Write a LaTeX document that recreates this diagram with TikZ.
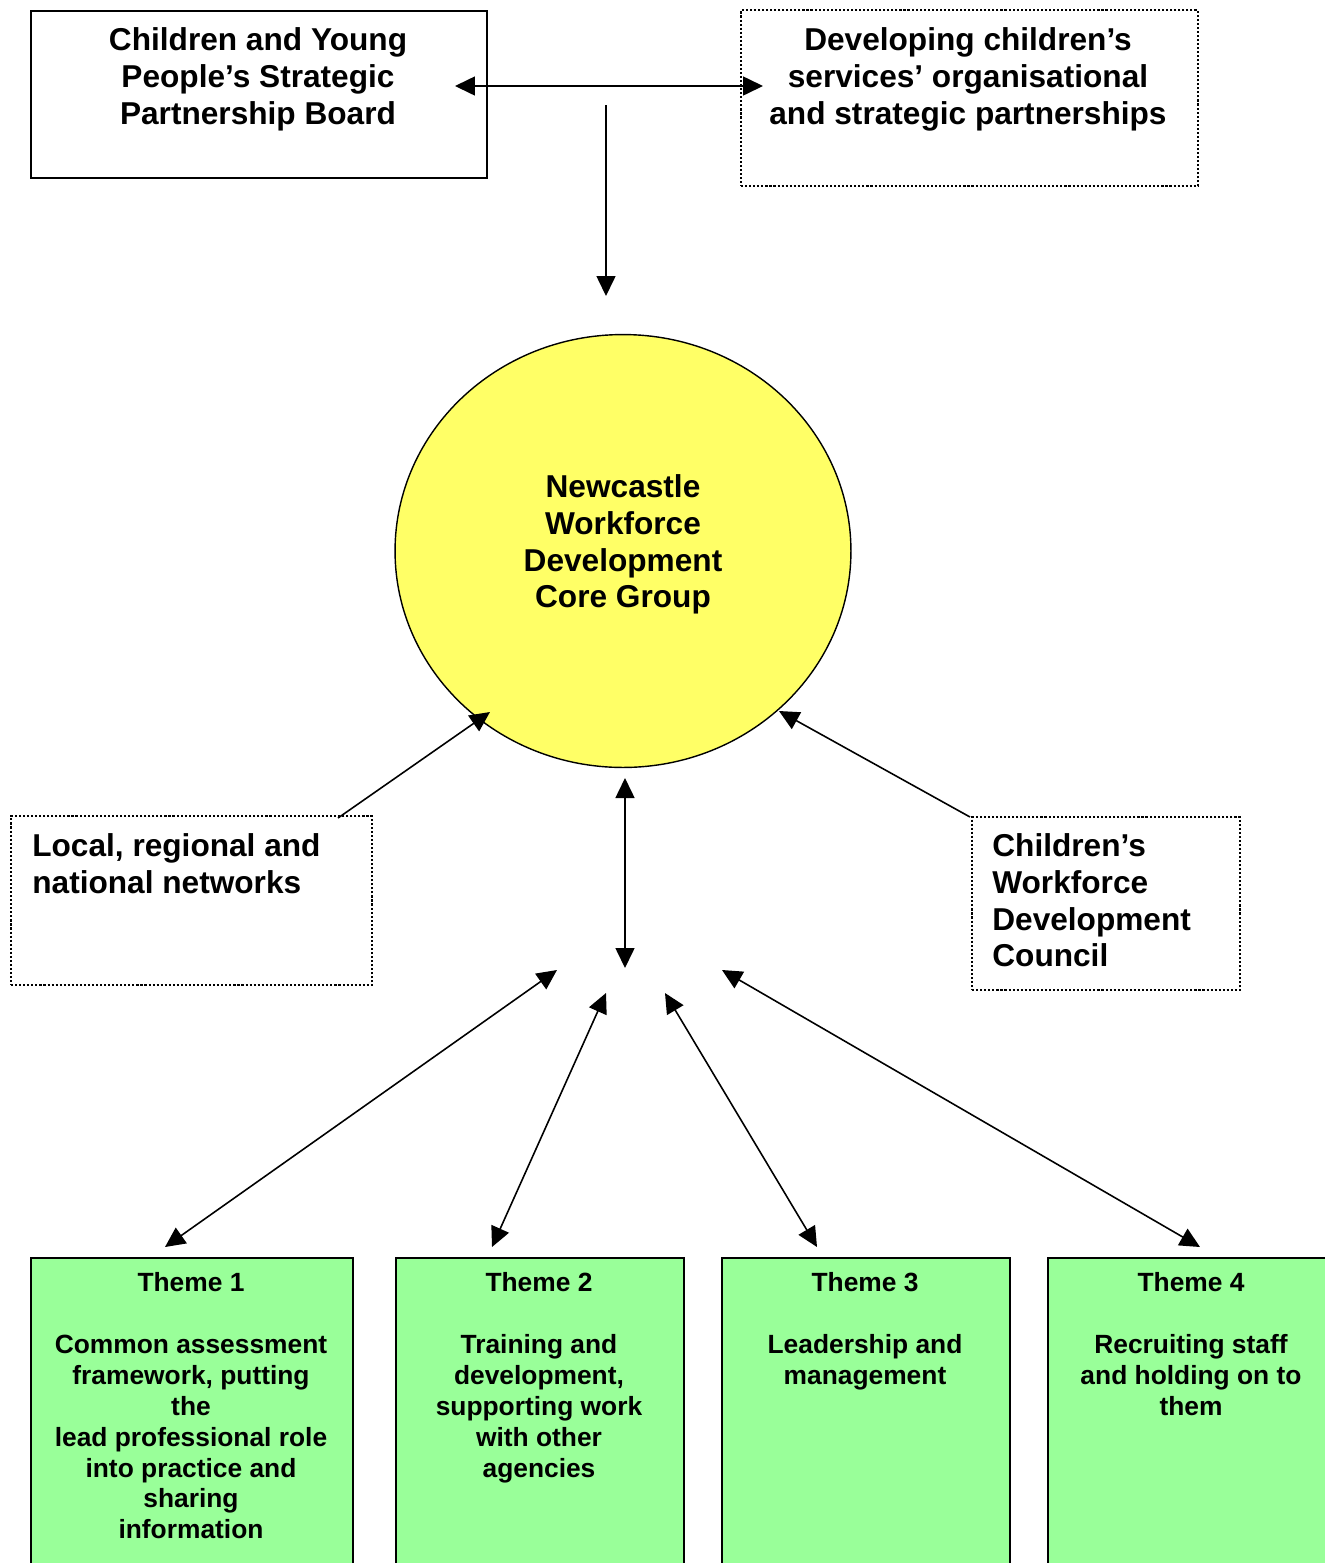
\documentclass[tikz,border=0pt]{standalone}
\usepackage{fontspec}
\setmainfont{Liberation Sans}
\usetikzlibrary{arrows.meta,shapes.geometric}
\definecolor{coreyellow}{HTML}{FFFF66}
\definecolor{themegreen}{HTML}{99FF99}
\tikzset{
 bigtext/.style={font=\fontsize{18}{21}\selectfont\bfseries, inner sep=0pt},
 smalltext/.style={font=\fontsize{15}{17.6}\selectfont\bfseries, inner sep=0pt, align=center, anchor=north},
 solidbox/.style={draw, line width=1pt, rectangle, inner sep=0pt, anchor=north west},
 dotbox/.style={draw, line width=1.3pt, dash pattern=on 1.2pt off 1.1pt, rectangle, inner sep=0pt, anchor=north west},
 themebox/.style={draw, fill=themegreen, line width=0.9pt, rectangle, inner sep=0pt, anchor=north west, minimum height=8cm},
 conn/.style={line width=0.9pt, -{Triangle[length=0.4cm,width=0.38cm]}},
 dconn/.style={line width=0.9pt, {Triangle[length=0.4cm,width=0.38cm]}-{Triangle[length=0.4cm,width=0.38cm]}},
}
\begin{document}
\begin{tikzpicture}[x=0.02cm,y=-0.02cm]
\useasboundingbox (0,0) rectangle (1325,1563);
\clip (0,0) rectangle (1325,1563);
\fill[white] (0,0) rectangle (1325,1563);

% top boxes
\node[solidbox, minimum width=9.12cm, minimum height=3.34cm] (board) at (30,10) {};
\node[bigtext, align=center, anchor=north] (boardtxt) at (258,27)
  {Children and Young\\People’s Strategic\\Partnership Board};
\node[dotbox, minimum width=9.14cm, minimum height=3.52cm] (devel) at (740,9) {};
\node[bigtext, align=center, anchor=north] (develtxt) at (968,27)
  {Developing children’s\\services’ organisational\\and strategic partnerships};

% core circle
\node[ellipse, draw, fill=coreyellow, line width=0.8pt, minimum width=9.12cm, minimum height=8.66cm, inner sep=0pt] (core) at (623,551) {};
\node[bigtext, align=center, anchor=north] (coretxt) at (623,474)
  {Newcastle\\Workforce\\Development\\Core Group};

% side boxes
\node[dotbox, minimum width=7.22cm, minimum height=3.38cm] (local) at (10,815) {};
\node[bigtext, align=left, anchor=north west] (localtxt) at (32,833)
  {Local, regional and\\national networks};
\node[dotbox, minimum width=5.36cm, minimum height=3.46cm] (cwdc) at (971,816) {};
\node[bigtext, align=left, anchor=north west] (cwdctxt) at (992,833)
  {Children’s\\Workforce\\Development\\Council};

% theme boxes
\node[themebox, minimum width=6.44cm] (t1) at (30,1257) {};
\node[themebox, minimum width=5.76cm] (t2) at (395,1257) {};
\node[themebox, minimum width=5.76cm] (t3) at (721,1257) {};
\node[themebox, minimum width=5.9cm] (t4) at (1047,1257) {};
\node[smalltext] (t1txt) at (191,1272) {Theme 1\\[17.6pt]Common assessment\\framework, putting\\the\\lead professional role\\into practice and\\sharing\\information};
\node[smalltext] (t2txt) at (539,1272) {Theme 2\\[17.6pt]Training and\\development,\\supporting work\\with other\\agencies};
\node[smalltext] (t3txt) at (865,1272) {Theme 3\\[17.6pt]Leadership and\\management};
\node[smalltext] (t4txt) at (1191,1272) {Theme 4\\[17.6pt]Recruiting staff\\and holding on to\\them};

% connector end points
\coordinate (hA) at (455,86);
\coordinate (hB) at (763,86);
\coordinate (vA) at (606,105);
\coordinate (vB) at (606,296);
\coordinate (lA) at (338,818);
\coordinate (lB) at (490,712);
\coordinate (rA) at (970,817);
\coordinate (rB) at (779,711);
\coordinate (mA) at (625,778);
\coordinate (mB) at (625,968);
\coordinate (b1a) at (557,970);
\coordinate (b1b) at (165,1247);
\coordinate (b2a) at (606,993);
\coordinate (b2b) at (492,1247);
\coordinate (b3a) at (665,993);
\coordinate (b3b) at (817,1247);
\coordinate (b4a) at (722,970);
\coordinate (b4b) at (1200,1247);

\draw[dconn] (hA) -- (hB);
\draw[conn] (vA) -- (vB);
\draw[conn] (lA) -- (lB);
\draw[conn] (rA) -- (rB);
\draw[dconn] (mA) -- (mB);
\draw[dconn] (b1a) -- (b1b);
\draw[dconn] (b2a) -- (b2b);
\draw[dconn] (b3a) -- (b3b);
\draw[dconn] (b4a) -- (b4b);
\end{tikzpicture}
\end{document}
